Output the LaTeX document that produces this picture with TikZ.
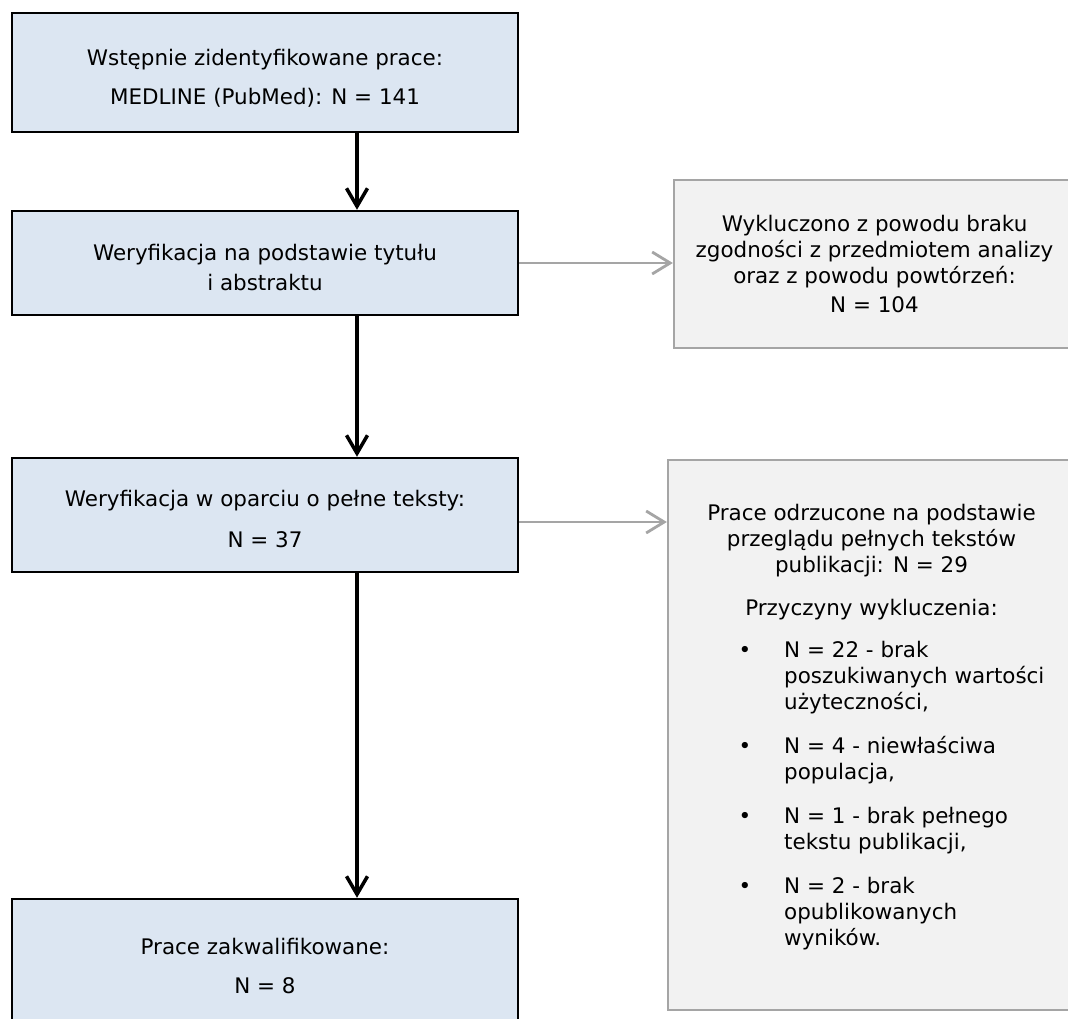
\documentclass[tikz,border=0pt]{standalone}
\usepackage{fontspec}
\setmainfont{DejaVu Sans}
\usetikzlibrary{arrows.meta,positioning,calc}
\definecolor{flowblue}{HTML}{DCE6F2}
\definecolor{exclfill}{HTML}{F2F2F2}
\definecolor{exclline}{HTML}{A5A5A5}

\begin{document}
\begin{tikzpicture}[
    every node/.style={font=\fontsize{12.2}{14.8}\selectfont},
    flowbox/.style={rectangle, draw=black, line width=1.4pt, fill=flowblue,
        minimum width=10.12cm, align=center},
    exclbox/.style={rectangle, draw=exclline, line width=1.3pt, fill=exclfill,
        align=center},
    mainarrow/.style={-{Straight Barb[length=0.36cm, width=0.42cm]}, line width=2pt, black},
    sidearrow/.style={-{Straight Barb[length=0.36cm, width=0.44cm]}, line width=1.6pt, exclline},
]

\clip (0,0) rectangle (21.36,-20.38);

% Main flow
\node[flowbox, minimum height=2.38cm] (wstepne) at (5.30,-1.45)
    {\rule{0pt}{0.57cm}Wstępnie zidentyfikowane prace:\\[0.26cm] MEDLINE (PubMed): N = 141};
\node[flowbox, minimum height=2.08cm] (tytul) at (5.30,-5.26)
    {\rule{0pt}{0.49cm}Weryfikacja na podstawie tytułu\\[0.08cm] i abstraktu};
\node[flowbox, minimum height=2.28cm] (pelne) at (5.30,-10.30)
    {\rule{0pt}{0.49cm}Weryfikacja w oparciu o pełne teksty:\\[0.3cm] N = 37};
\node[flowbox, minimum height=2.68cm] (zakwal) at (5.30,-19.32)
    {Prace zakwalifikowane:\\[0.24cm] N = 8};

% Excluded records
\node[exclbox, minimum width=8.02cm, minimum height=3.36cm] (wykl) at (17.49,-5.28)
    {Wykluczono z powodu braku\\ zgodności z przedmiotem analizy\\ oraz z powodu powtórzeń:\\[0.06cm] N = 104};
\node[exclbox, minimum width=8.14cm, minimum height=11cm] (odrzuc) at (17.43,-14.70)
    {Prace odrzucone na podstawie\\ przeglądu pełnych tekstów\\ publikacji: N = 29\\[0.34cm]
     Przyczyny wykluczenia:\\[0.34cm]
     \begin{tabular}{@{\hspace{0.8cm}}l@{\hspace{0.66cm}}l@{}}
     \textbullet & N = 22 - brak\\
                 & poszukiwanych wartości\\
                 & użyteczności,\\[0.36cm]
     \textbullet & N = 4 - niewłaściwa\\
                 & populacja,\\[0.36cm]
     \textbullet & N = 1 - brak pełnego\\
                 & tekstu publikacji,\\[0.36cm]
     \textbullet & N = 2 - brak\\
                 & opublikowanych\\
                 & wyników.\rule[-0.4cm]{0pt}{0.4cm}
     \end{tabular}};

% Arrows
\draw[mainarrow] ([xshift=1.84cm]wstepne.south) -- ([xshift=1.84cm]tytul.north);
\draw[mainarrow] ([xshift=1.84cm]tytul.south) -- ([xshift=1.84cm]pelne.north);
\draw[mainarrow] ([xshift=1.84cm]pelne.south) -- ([xshift=1.84cm]zakwal.north);
\draw[sidearrow] (tytul.east) -- (tytul.east -| wykl.west);
\draw[sidearrow] ([yshift=-0.14cm]pelne.east) -- ([yshift=-0.14cm]pelne.east -| odrzuc.west);

\end{tikzpicture}
\end{document}
